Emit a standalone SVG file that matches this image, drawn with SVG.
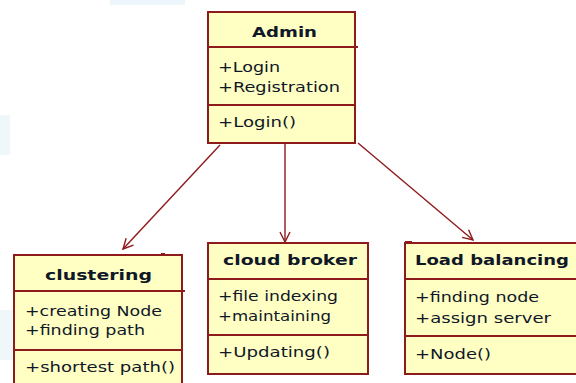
<svg xmlns="http://www.w3.org/2000/svg" width="576" height="383" viewBox="0 0 576 383">
<style>
.box{fill:#ffffc4;stroke:#8e1b1b;stroke-width:2}
.sep{stroke:#8e1b1b;stroke-width:2}
.title{font-family:"DejaVu Sans",Verdana,sans-serif;font-size:14px;font-weight:bold;fill:#101828}
.item{font-family:"DejaVu Sans",Verdana,sans-serif;font-size:14px;fill:#101828}
.conn{stroke:#8e1b1b;stroke-width:1.4;fill:none}
.wm{fill:#e6f2f8}
</style>
<defs>
<marker id="open" viewBox="0 0 12 12" refX="11" refY="6" markerWidth="12" markerHeight="12" markerUnits="userSpaceOnUse" orient="auto">
<path d="M1,1 L11,6 L1,11" fill="none" stroke="#8e1b1b" stroke-width="1.4"/>
</marker>
</defs>
<rect x="0" y="0" width="576" height="383" fill="#ffffff"/>
<rect class="wm" x="110" y="0" width="75" height="5" opacity="0.7"/>
<rect class="wm" x="0" y="115" width="10" height="40" opacity="0.6"/>
<rect class="wm" x="0" y="310" width="14" height="50" opacity="0.6"/>
<g id="connectors">
<line class="conn" x1="220" y1="145" x2="123" y2="249" marker-end="url(#open)"/>
<line class="conn" x1="285" y1="144" x2="285" y2="242" marker-end="url(#open)"/>
<line class="conn" x1="358" y1="143" x2="473" y2="240" marker-end="url(#open)"/>
</g>
<g id="admin">
<rect class="box" x="208" y="12" width="147" height="131"/>
<line class="sep" x1="208" y1="47" x2="358" y2="47"/>
<line class="sep" x1="208" y1="105" x2="355" y2="105"/>
<text class="title" x="252" y="37" textLength="65" lengthAdjust="spacingAndGlyphs">Admin</text>
<text class="item" x="218" y="72" textLength="62" lengthAdjust="spacingAndGlyphs">+Login</text>
<text class="item" x="218" y="92" textLength="122" lengthAdjust="spacingAndGlyphs">+Registration</text>
<text class="item" x="218" y="127" textLength="78" lengthAdjust="spacingAndGlyphs">+Login()</text>
</g>
<g id="clustering">
<rect class="box" x="14" y="255" width="168" height="140"/>
<rect x="161" y="253" width="4" height="3" fill="#8e1b1b"/>
<line class="sep" x1="14" y1="291" x2="185" y2="291"/>
<line class="sep" x1="14" y1="350" x2="182" y2="350"/>
<text class="title" x="45" y="280" textLength="107" lengthAdjust="spacingAndGlyphs">clustering</text>
<text class="item" x="25" y="316" textLength="137" lengthAdjust="spacingAndGlyphs">+creating Node</text>
<text class="item" x="25" y="335" textLength="120" lengthAdjust="spacingAndGlyphs">+finding path</text>
<text class="item" x="25" y="372" textLength="150" lengthAdjust="spacingAndGlyphs">+shortest path()</text>
</g>
<g id="cloud-broker">
<rect class="box" x="208" y="243" width="160" height="131"/>
<line class="sep" x1="208" y1="279" x2="368" y2="279"/>
<line class="sep" x1="208" y1="335" x2="368" y2="335"/>
<text class="title" x="223" y="265" textLength="134" lengthAdjust="spacingAndGlyphs">cloud broker</text>
<text class="item" x="218" y="301" textLength="120" lengthAdjust="spacingAndGlyphs">+file indexing</text>
<text class="item" x="218" y="321" textLength="113" lengthAdjust="spacingAndGlyphs">+maintaining</text>
<text class="item" x="218" y="357" textLength="112" lengthAdjust="spacingAndGlyphs">+Updating()</text>
</g>
<g id="load-balancing">
<rect class="box" x="405" y="243" width="190" height="131"/>
<rect x="405" y="241" width="7" height="3" fill="#8e1b1b"/>
<line class="sep" x1="405" y1="279" x2="595" y2="279"/>
<line class="sep" x1="405" y1="336" x2="595" y2="336"/>
<text class="title" x="415" y="265" textLength="154" lengthAdjust="spacingAndGlyphs">Load balancing</text>
<text class="item" x="415" y="302" textLength="124" lengthAdjust="spacingAndGlyphs">+finding node</text>
<text class="item" x="415" y="323" textLength="136" lengthAdjust="spacingAndGlyphs">+assign server</text>
<text class="item" x="415" y="359" textLength="76" lengthAdjust="spacingAndGlyphs">+Node()</text>
</g>
</svg>
